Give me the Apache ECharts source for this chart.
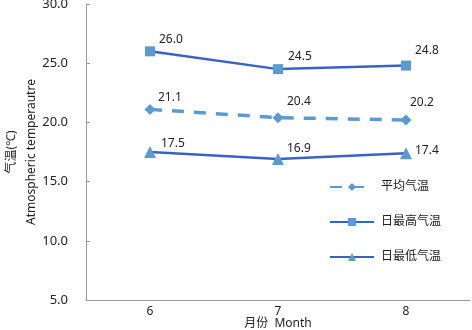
<!DOCTYPE html>
<html lang="zh">
<head>
    <meta charset="UTF-8">
    <title>气温</title>
    <script src="https://cdn.jsdelivr.net/npm/echarts/dist/echarts.min.js"></script>
    <style>
        html, body { margin: 0; padding: 0; background: #fff; }
        #chart { width: 472px; height: 330px; }
    </style>
</head>
<body>
    <div id="chart"></div>
    <script>
        var months = ['6', '7', '8'];
        var avgTemp = [21.1, 20.4, 20.2];
        var maxTemp = [26.0, 24.5, 24.8];
        var minTemp = [17.5, 16.9, 17.4];

        var font = "'Noto Sans', 'Noto Sans CJK SC', sans-serif";
        var lineDark = '#3a62c4';
        var lightBlue = '#5b9bd5';

        function labels(values, offsets) {
            return values.map(function (v, i) {
                return {
                    value: v,
                    label: { offset: offsets[i] }
                };
            });
        }

        var chart = echarts.init(document.getElementById('chart'));
        chart.setOption({
            animation: false,
            textStyle: { fontFamily: font },
            grid: { left: 86, right: 2, top: 4, bottom: 30, outerBoundsMode: 'none', containLabel: false },
            legend: {
                orient: 'vertical',
                left: 324,
                top: 176,
                itemWidth: 44,
                itemHeight: 10,
                itemGap: 23,
                textStyle: { fontSize: 12, color: '#222', fontFamily: font, padding: [0, 0, 0, 2] },
                data: ['平均气温', '日最高气温', '日最低气温']
            },
            xAxis: {
                type: 'category',
                data: months,
                name: '月份  Month',
                nameLocation: 'middle',
                nameGap: 24,
                nameMoveOverlap: false,
                nameTextStyle: { fontSize: 12, color: '#222', verticalAlign: 'middle' },
                axisLine: { lineStyle: { color: '#999' } },
                axisTick: { inside: true, length: 4, lineStyle: { color: '#999' } },
                axisLabel: { fontSize: 12, color: '#222', margin: 6 }
            },
            yAxis: {
                type: 'value',
                min: 5,
                max: 30,
                interval: 5,
                name: '气温(℃)\nAtmospheric temperautre',
                nameLocation: 'middle',
                nameRotate: 90,
                nameGap: 64,
                nameMoveOverlap: false,
                nameTextStyle: { fontSize: 12, color: '#222', lineHeight: 20, verticalAlign: 'middle' },
                axisLine: { show: true, lineStyle: { color: '#999' } },
                axisTick: { show: true, inside: true, length: 4, lineStyle: { color: '#999' } },
                splitLine: { show: false },
                axisLabel: {
                    fontSize: 13, color: '#222', margin: 18,
                    formatter: function (v) { return v.toFixed(1); }
                }
            },
            series: [
                {
                    name: '平均气温',
                    type: 'line',
                    data: labels(avgTemp, [[8, -12], [9, -16], [4, -17]]),
                    symbol: 'diamond',
                    symbolSize: 11,
                    itemStyle: { color: lightBlue },
                    lineStyle: { color: lightBlue, width: 3.5, type: [12, 10] },
                    label: {
                        show: true, position: 'inside', align: 'left', color: '#222', fontSize: 12,
                        formatter: function (p) { return p.value.toFixed(1); }
                    }
                },
                {
                    name: '日最高气温',
                    type: 'line',
                    data: labels(maxTemp, [[9, -12], [10, -13], [9, -15]]),
                    symbol: 'rect',
                    symbolSize: 10,
                    itemStyle: { color: lightBlue },
                    lineStyle: { color: lineDark, width: 2.5 },
                    label: {
                        show: true, position: 'inside', align: 'left', color: '#222', fontSize: 12,
                        formatter: function (p) { return p.value.toFixed(1); }
                    }
                },
                {
                    name: '日最低气温',
                    type: 'line',
                    data: labels(minTemp, [[11, -8], [9, -11], [9, -3]]),
                    symbol: 'triangle',
                    symbolSize: 12,
                    itemStyle: { color: lightBlue },
                    lineStyle: { color: lineDark, width: 2.5 },
                    label: {
                        show: true, position: 'inside', align: 'left', color: '#222', fontSize: 12,
                        formatter: function (p) { return p.value.toFixed(1); }
                    }
                }
            ]
        });
    </script>
</body>
</html>
